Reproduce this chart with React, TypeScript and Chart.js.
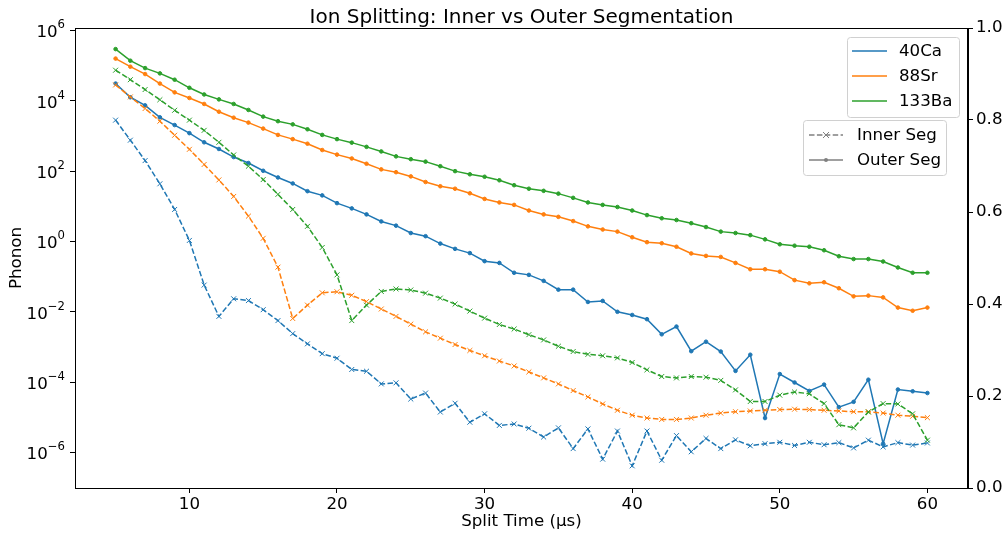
import React, { useEffect, useRef } from "react";
import { Chart, registerables } from "chart.js";

Chart.register(...registerables);

// Split time (µs)
const splitTime = [
  5, 6, 7, 8, 9, 10, 11, 12, 13, 14, 15, 16, 17, 18, 19, 20, 21, 22, 23, 24, 25, 26, 27, 28, 29, 30, 31, 32,
  33, 34, 35, 36, 37, 38, 39, 40, 41, 42, 43, 44, 45, 46, 47, 48, 49, 50, 51, 52, 53, 54, 55, 56, 57, 58, 59, 60,
];

// Phonon numbers, given as log10 exponents
const ca40InnerLog10 = [
  3.45, 2.88, 2.3, 1.64, 0.91, 0.03, -1.24, -2.13, -1.63, -1.68, -1.94, -2.25, -2.62, -2.91, -3.19, -3.32, -3.64,
  -3.69, -4.05, -4.02, -4.48, -4.31, -4.85, -4.6, -5.14, -4.9, -5.23, -5.19, -5.31, -5.56, -5.3, -5.89, -5.33,
  -6.19, -5.39, -6.38, -5.39, -6.22, -5.52, -5.98, -5.6, -5.89, -5.64, -5.81, -5.75, -5.71, -5.8, -5.71, -5.78,
  -5.72, -5.87, -5.65, -5.84, -5.72, -5.79, -5.73,
];
const ca40OuterLog10 = [
  4.49, 4.1, 3.87, 3.53, 3.31, 3.08, 2.82, 2.63, 2.4, 2.23, 2.01, 1.82, 1.65, 1.43, 1.31, 1.09, 0.94, 0.77, 0.57,
  0.45, 0.24, 0.15, -0.06, -0.21, -0.33, -0.56, -0.61, -0.89, -0.95, -1.12, -1.37, -1.37, -1.72, -1.69, -2.0,
  -2.09, -2.21, -2.64, -2.42, -3.12, -2.85, -3.13, -3.68, -3.22, -5.02, -3.77, -4.01, -4.25, -4.07, -4.71, -4.56,
  -3.93, -5.75, -4.21, -4.26, -4.31,
];
const sr88InnerLog10 = [
  4.45, 4.11, 3.78, 3.42, 3.02, 2.62, 2.19, 1.75, 1.28, 0.72, 0.09, -0.73, -2.19, -1.81, -1.46, -1.43, -1.53,
  -1.71, -1.92, -2.13, -2.35, -2.57, -2.75, -2.93, -3.1, -3.25, -3.4, -3.54, -3.71, -3.88, -4.05, -4.24, -4.42,
  -4.62, -4.8, -4.94, -5.02, -5.06, -5.06, -5.02, -4.94, -4.88, -4.84, -4.82, -4.8, -4.78, -4.77, -4.78, -4.8,
  -4.82, -4.84, -4.84, -4.88, -4.94, -4.97, -5.01,
];
const sr88OuterLog10 = [
  5.2, 4.97, 4.76, 4.49, 4.24, 4.08, 3.91, 3.69, 3.52, 3.38, 3.21, 3.03, 2.91, 2.78, 2.6, 2.47, 2.36, 2.21, 2.05,
  1.97, 1.85, 1.69, 1.57, 1.5, 1.37, 1.21, 1.11, 1.04, 0.88, 0.77, 0.7, 0.58, 0.43, 0.34, 0.28, 0.12, -0.02,
  -0.05, -0.15, -0.34, -0.41, -0.44, -0.61, -0.79, -0.79, -0.86, -1.1, -1.19, -1.16, -1.33, -1.56, -1.54, -1.59,
  -1.88, -1.97, -1.88,
];
const ba133InnerLog10 = [
  4.87, 4.6, 4.32, 4.03, 3.73, 3.45, 3.16, 2.82, 2.46, 2.14, 1.76, 1.34, 0.91, 0.43, -0.17, -0.95, -2.25, -1.81,
  -1.42, -1.35, -1.38, -1.47, -1.61, -1.78, -1.98, -2.18, -2.36, -2.49, -2.65, -2.8, -2.98, -3.13, -3.21, -3.25,
  -3.31, -3.44, -3.65, -3.84, -3.88, -3.84, -3.86, -3.95, -4.22, -4.55, -4.55, -4.37, -4.28, -4.33, -4.61, -5.21,
  -5.3, -4.85, -4.61, -4.62, -4.9, -5.65,
];
const ba133OuterLog10 = [
  5.47, 5.14, 4.93, 4.78, 4.6, 4.37, 4.18, 4.04, 3.91, 3.74, 3.55, 3.42, 3.33, 3.19, 3.03, 2.91, 2.81, 2.69, 2.56,
  2.42, 2.34, 2.27, 2.14, 2.0, 1.91, 1.84, 1.74, 1.6, 1.5, 1.44, 1.36, 1.24, 1.11, 1.04, 0.98, 0.88, 0.75, 0.66,
  0.61, 0.52, 0.41, 0.28, 0.24, 0.18, 0.06, -0.08, -0.12, -0.15, -0.25, -0.42, -0.5, -0.5, -0.57, -0.74, -0.89,
  -0.89,
];

const ionNames = ["40Ca", "88Sr", "133Ba"];
const ionColors = ["#1f77b4", "#ff7f0e", "#2ca02c"];
const segNames = ["Inner Seg", "Outer Seg"];
const xTickValues = [10, 20, 30, 40, 50, 60];
const yTickExponents = [-6, -4, -2, 0, 2, 4, 6];
const rightTickValues = [0, 0.2, 0.4, 0.6, 0.8, 1.0];

const titleText = "Ion Splitting: Inner vs Outer Segmentation";
const xLabel = "Split Time (µs)";
const yLabel = "Phonon";

const FONT = "'DejaVu Sans', sans-serif";
const FS = 16.67;

function toPoints(arr: number[]) {
  return splitTime.map((t, i) => ({ x: t, y: Math.pow(10, arr[i]) }));
}

function drawBox(ctx: CanvasRenderingContext2D, x: number, y: number, w: number, h: number) {
  const r = 3;
  ctx.beginPath();
  ctx.moveTo(x + r, y);
  ctx.lineTo(x + w - r, y);
  ctx.quadraticCurveTo(x + w, y, x + w, y + r);
  ctx.lineTo(x + w, y + h - r);
  ctx.quadraticCurveTo(x + w, y + h, x + w - r, y + h);
  ctx.lineTo(x + r, y + h);
  ctx.quadraticCurveTo(x, y + h, x, y + h - r);
  ctx.lineTo(x, y + r);
  ctx.quadraticCurveTo(x, y, x + r, y);
  ctx.closePath();
  ctx.fillStyle = "rgba(255,255,255,0.8)";
  ctx.fill();
  ctx.strokeStyle = "#d0d0d0";
  ctx.lineWidth = 1;
  ctx.stroke();
}

const decorPlugin = {
  id: "decor",
  afterDatasetsDraw(chart: any) {
    const { ctx, chartArea } = chart;
    ctx.save();
    ctx.strokeStyle = "#000";
    ctx.lineWidth = 1;
    ctx.strokeRect(
      Math.round(chartArea.left) + 0.5,
      Math.round(chartArea.top) + 0.5,
      Math.round(chartArea.right - chartArea.left) - 1,
      Math.round(chartArea.bottom - chartArea.top)
    );
    ctx.restore();
  },
  afterDraw(chart: any) {
    const { ctx, chartArea } = chart;
    ctx.save();
    // title
    ctx.fillStyle = "#000";
    ctx.font = `20px ${FONT}`;
    ctx.textAlign = "center";
    ctx.textBaseline = "alphabetic";
    ctx.fillText(titleText, (chartArea.left + chartArea.right) / 2, 23);

    // log-axis tick labels: 10 with a raised exponent
    const yScale = chart.scales.y;
    yTickExponents.forEach((e) => {
      const py = yScale.getPixelForValue(Math.pow(10, e));
      const expText = String(e).replace("-", "\u2212");
      ctx.font = `${FS * 0.7}px ${FONT}`;
      const expW = ctx.measureText(expText).width;
      const right = chartArea.left - 10;
      ctx.textAlign = "left";
      ctx.textBaseline = "alphabetic";
      ctx.fillText(expText, right - expW, py - 2);
      ctx.font = `${FS}px ${FONT}`;
      const baseW = ctx.measureText("10").width;
      ctx.fillText("10", right - expW - baseW, py + 7);
    });

    // legend 1: ions
    drawBox(ctx, 847.5, 37.5, 112, 80);
    ctx.font = `${FS}px ${FONT}`;
    ctx.textAlign = "left";
    ctx.textBaseline = "middle";
    ionNames.forEach((name, i) => {
      const y = 51 + i * 25;
      ctx.strokeStyle = ionColors[i];
      ctx.lineWidth = 1.5;
      ctx.setLineDash([]);
      ctx.beginPath();
      ctx.moveTo(852, y);
      ctx.lineTo(887, y);
      ctx.stroke();
      ctx.fillStyle = "#000";
      ctx.fillText(name, 899, y + 1);
    });

    // legend 2: segments
    drawBox(ctx, 803.5, 120.5, 143, 55);
    segNames.forEach((name, i) => {
      const y = 135 + i * 25;
      ctx.strokeStyle = "#808080";
      ctx.lineWidth = 1.5;
      ctx.setLineDash(i === 0 ? [5.5, 2.4] : []);
      ctx.beginPath();
      ctx.moveTo(809, y);
      ctx.lineTo(843, y);
      ctx.stroke();
      ctx.setLineDash([]);
      const cx = 826;
      if (i === 0) {
        ctx.lineWidth = 1;
        ctx.beginPath();
        ctx.moveTo(cx - 3, y - 3);
        ctx.lineTo(cx + 3, y + 3);
        ctx.moveTo(cx - 3, y + 3);
        ctx.lineTo(cx + 3, y - 3);
        ctx.stroke();
      } else {
        ctx.fillStyle = "#808080";
        ctx.beginPath();
        ctx.arc(cx, y, 2, 0, Math.PI * 2);
        ctx.fill();
      }
      ctx.fillStyle = "#000";
      ctx.fillText(name, 857, y + 1);
    });
    ctx.restore();
  },
};

export default function App() {
  const ref = useRef<HTMLCanvasElement | null>(null);

  useEffect(() => {
    document.body.style.margin = "0";
    const canvas = ref.current;
    if (!canvas) return;

    const series = [
      { ion: 0, inner: true, data: ca40InnerLog10 },
      { ion: 0, inner: false, data: ca40OuterLog10 },
      { ion: 1, inner: true, data: sr88InnerLog10 },
      { ion: 1, inner: false, data: sr88OuterLog10 },
      { ion: 2, inner: true, data: ba133InnerLog10 },
      { ion: 2, inner: false, data: ba133OuterLog10 },
    ];

    const datasets = series.map((s, idx) => ({
      label: `${ionNames[s.ion]} ${s.inner ? segNames[0] : segNames[1]}`,
      data: toPoints(s.data),
      borderColor: ionColors[s.ion],
      backgroundColor: ionColors[s.ion],
      borderWidth: 1.5,
      borderDash: s.inner ? [5.5, 2.4] : [],
      pointStyle: s.inner ? "crossRot" : "circle",
      pointRadius: s.inner ? 3.5 : 1.8,
      pointBorderWidth: 1,
      pointBorderColor: ionColors[s.ion],
      pointBackgroundColor: ionColors[s.ion],
      tension: 0,
      fill: false,
      order: 100 - idx,
      yAxisID: "y",
      xAxisID: "x",
    }));

    const tickFont = { family: FONT, size: FS };

    const chart = new Chart(canvas, {
      type: "line",
      data: { datasets },
      plugins: [decorPlugin],
      options: {
        animation: false,
        responsive: false,
        devicePixelRatio: 1,
        layout: { padding: { top: 28, left: 0, right: 0, bottom: 0 } },
        plugins: {
          legend: { display: false },
          tooltip: { enabled: false },
          title: { display: false },
        },
        scales: {
          x: {
            type: "linear",
            min: 2.25,
            max: 62.75,
            afterBuildTicks: (s: any) => {
              s.ticks = xTickValues.map((v) => ({ value: v }));
            },
            afterFit: (s: any) => {
              s.height = 47;
            },
            ticks: { font: tickFont, color: "#000", padding: 2, maxRotation: 0 },
            grid: { drawOnChartArea: false, drawTicks: true, tickLength: 5, tickColor: "#000", tickWidth: 1 },
            border: { color: "#000", width: 1 },
            title: {
              display: true,
              text: xLabel,
              font: { family: FONT, size: FS },
              color: "#000",
              padding: { top: 0, bottom: 3 },
            },
          },
          y: {
            type: "logarithmic",
            position: "left",
            min: Math.pow(10, -7.01),
            max: Math.pow(10, 6.07),
            afterBuildTicks: (s: any) => {
              s.ticks = yTickExponents.map((e) => ({ value: Math.pow(10, e), major: true }));
            },
            afterFit: (s: any) => {
              s.width = 75;
            },
            ticks: {
              font: tickFont,
              color: "#000",
              padding: 4,
              callback: () => "",
            },
            grid: { drawOnChartArea: false, drawTicks: true, tickLength: 5, tickColor: "#000", tickWidth: 1 },
            border: { color: "#000", width: 1 },
            title: {
              display: true,
              text: yLabel,
              font: { family: FONT, size: FS },
              color: "#000",
              padding: { top: 7, bottom: 0 },
            },
          },
          y2: {
            type: "linear",
            position: "right",
            min: 0,
            max: 1,
            afterBuildTicks: (s: any) => {
              s.ticks = rightTickValues.map((v) => ({ value: v }));
            },
            afterFit: (s: any) => {
              s.width = 38;
            },
            ticks: {
              font: tickFont,
              color: "#000",
              padding: 3,
              callback: (v: any) => Number(v).toFixed(1),
            },
            grid: { drawOnChartArea: false, drawTicks: true, tickLength: 5, tickColor: "#000", tickWidth: 1 },
            border: { color: "#000", width: 1 },
          },
        },
      } as any,
    });

    return () => chart.destroy();
  }, []);

  return <canvas ref={ref} width={1006} height={535} style={{ display: "block" }} />;
}
